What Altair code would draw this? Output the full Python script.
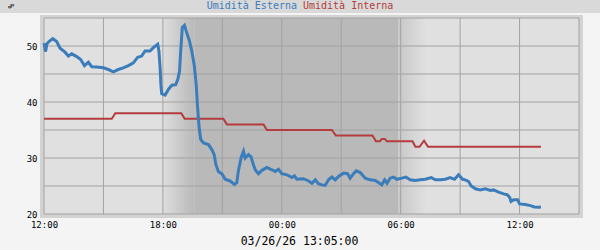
import altair as alt
import pandas as pd

# ---------------- data ----------------
START = pd.Timestamp("2026-03-25 12:00:00")

series_names = ["Umidità Esterna", "Umidità Interna"]
unit_label = "%"
footer_text = "03/26/26 13:05:00"

# hours after 03/25 12:00, humidity %
esterna_h = [0.0, 0.08, 0.15, 0.25, 0.44, 0.64, 0.81, 1.06, 1.23, 1.4, 1.65, 1.85, 2.04, 2.24,
             2.41, 2.66, 3.0, 3.25, 3.5, 3.75, 4.0, 4.26, 4.51, 4.73, 4.93, 5.1, 5.35, 5.52,
             5.74, 5.8, 5.86, 5.9, 5.94, 6.11, 6.28, 6.45, 6.65, 6.75, 6.84, 6.9, 6.98, 7.09,
             7.2, 7.34, 7.46, 7.59, 7.68, 7.74, 7.83, 7.91, 8.05, 8.3, 8.47, 8.59, 8.67, 8.8,
             9.0, 9.14, 9.39, 9.61, 9.73, 9.81, 9.95, 10.07, 10.15, 10.32, 10.45, 10.54, 10.66,
             10.82, 11.0, 11.25, 11.5, 11.67, 11.83, 12.0, 12.26, 12.51, 12.64, 12.76, 13.1,
             13.35, 13.52, 13.69, 13.85, 14.02, 14.19, 14.36, 14.53, 14.7, 14.86, 15.12, 15.32,
             15.45, 15.62, 15.76, 15.96, 16.21, 16.46, 16.72, 16.97, 17.05, 17.19, 17.31, 17.47,
             17.64, 17.81, 18.06, 18.26, 18.48, 18.73, 18.99, 19.24, 19.55, 19.75, 20.0, 20.25,
             20.5, 20.72, 20.92, 21.13, 21.26, 21.43, 21.55, 21.77, 22.02, 22.27, 22.53, 22.69,
             22.94, 23.2, 23.37, 23.5, 23.57, 23.7, 23.9, 24.0, 24.29, 24.55, 24.75, 24.96, 25.08]
esterna_v = [50.5, 49.0, 50.4, 50.8, 51.3, 50.8, 49.6, 48.9, 48.2, 48.6, 48.1, 47.6, 46.5, 47.1,
             46.3, 46.25, 46.1, 45.8, 45.4, 45.8, 46.1, 46.5, 47.0, 48.0, 48.2, 49.1, 49.1, 49.7,
             50.3, 49.1, 46.1, 43.1, 41.5, 41.25, 42.25, 43.0, 43.1, 44.0, 45.5, 49.1, 53.3, 53.7,
             52.4, 50.9, 49.1, 46.4, 43.1, 39.6, 35.4, 33.3, 32.7, 32.4, 31.5, 30.6, 28.9, 27.6,
             27.1, 26.2, 25.9, 25.3, 25.6, 27.7, 30.1, 31.2, 30.0, 30.6, 30.2, 29.1, 27.9,
             27.2, 27.8, 28.3, 27.9, 27.6, 28.0, 27.2, 27.0, 26.5, 26.8, 26.2, 26.3,
             25.9, 25.5, 26.1, 25.4, 25.2, 25.1, 26.1, 26.6, 26.1, 26.7, 27.3, 27.2,
             26.4, 27.2, 27.7, 27.4, 26.4, 26.1, 26.0, 25.4, 25.2, 26.1, 25.5, 26.4,
             26.6, 26.2, 26.4, 26.6, 26.1, 26.0, 26.1, 26.2, 26.5, 26.1, 26.1, 26.2,
             26.5, 26.2, 27.0, 26.2, 26.1, 25.8, 25.05, 24.5, 24.3, 24.5, 24.2, 24.3,
             23.9, 23.6, 23.45, 23.0, 22.25, 22.55, 22.55, 21.8, 21.7, 21.5, 21.25, 21.2, 21.25]

interna_h = [0.0, 3.42, 3.6, 6.93, 7.1, 9.05, 9.23, 11.08, 11.25, 14.53, 14.73, 16.58, 16.75,
             16.95, 17.05, 17.2, 17.3, 18.6, 18.74, 18.95, 19.18, 19.38, 25.08]
interna_v = [37, 37, 38, 38, 37, 37, 36, 36, 35, 35, 34, 34, 33,
             33, 33.4, 33.4, 33, 33, 32, 32, 33.1, 32, 32]

# night shading (hours after start): twilight in, dark, twilight out
dusk_h = [6.0, 7.6]
dark_h = [7.6, 17.88]
dawn_h = [17.88, 19.3]

x_domain_h = [0, 27]
grid_h = [0, 3, 6, 9, 12, 15, 18, 21, 24, 27]
label_h = [0, 6, 12, 18, 24]
y_domain = [20, 55]
y_grid = [20, 25, 30, 35, 40, 45, 50, 55]
y_labels = [20, 30, 40, 50]

# ---------------- helpers ----------------
def ts(h):
    return (START + pd.Timedelta(hours=h)).strftime("%Y-%m-%dT%H:%M:%SZ")

def dt(h):
    t = START + pd.Timedelta(hours=h)
    return alt.DateTime(year=t.year, month=t.month, date=t.day, hours=t.hour,
                        minutes=t.minute, utc=True)

W, H = 535, 196
FONT = "DejaVu Sans Mono"
BLUE = "#3b7dbb"
RED = "#b43c3c"
GRID = "#a2a2a2"

xscale = alt.Scale(type="utc", domain=[dt(x_domain_h[0]), dt(x_domain_h[1])])
yscale = alt.Scale(domain=y_domain, nice=False, zero=False)

xaxis = alt.Axis(values=[dt(h) for h in label_h], format="%H:%M", title=None,
                 ticks=False, domain=False, grid=False, labelFlush=False,
                 labelOverlap=False, labelFont=FONT, labelFontSize=9,
                 labelColor="#000000", labelPadding=6)
yaxis = alt.Axis(values=y_labels, title=None, ticks=False, domain=False, grid=False,
                 labelFlush=False, labelFont=FONT, labelFontSize=9,
                 labelColor="#000000", labelPadding=7)

one = pd.DataFrame({"k": [0]})

# decoration: top band, frame band, plot background
top_band = alt.Chart(one).mark_rect(color="#d9d9d9").encode(
    x=alt.value(-44), x2=alt.value(556), y=alt.value(-18), y2=alt.value(-5))
frame_band = alt.Chart(one).mark_rect(color="#d3d3d3").encode(
    x=alt.value(-4), x2=alt.value(W + 4), y=alt.value(-3), y2=alt.value(H + 4))
plot_bg = alt.Chart(one).mark_rect(color="#e0e0e0").encode(
    x=alt.value(0), x2=alt.value(W), y=alt.value(0), y2=alt.value(H))

def band(hs, c0, c1):
    df = pd.DataFrame({"a": [ts(hs[0])], "b": [ts(hs[1])]})
    grad = alt.Gradient(gradient="linear",
                        stops=[alt.GradientStop(color=c0, offset=0),
                               alt.GradientStop(color=c1, offset=1)],
                        x1=0, x2=1, y1=0, y2=0)
    return alt.Chart(df).mark_rect(fill=grad).encode(
        x=alt.X("a:T", scale=xscale, axis=xaxis), x2="b:T",
        y=alt.value(0), y2=alt.value(H))

dusk = band(dusk_h, "#dddddd", "#b9b9b9")
dark = band(dark_h, "#b9b9b9", "#b9b9b9")
dawn = band(dawn_h, "#c8c8c8", "#e0e0e0")

vgrid = alt.Chart(pd.DataFrame({"t": [ts(h) for h in grid_h]})).mark_rule(
    color=GRID, strokeWidth=1).encode(x=alt.X("t:T", scale=xscale, axis=xaxis))
hgrid = alt.Chart(pd.DataFrame({"v": y_grid})).mark_rule(
    color=GRID, strokeWidth=1).encode(y=alt.Y("v:Q", scale=yscale, axis=yaxis))

df_int = pd.DataFrame({"t": [ts(h) for h in interna_h], "v": interna_v})
df_est = pd.DataFrame({"t": [ts(h) for h in esterna_h], "v": esterna_v})

line_int = alt.Chart(df_int).mark_line(color=RED, strokeWidth=2).encode(
    x=alt.X("t:T", scale=xscale, axis=xaxis), y=alt.Y("v:Q", scale=yscale, axis=yaxis))
line_est = alt.Chart(df_est).mark_line(color=BLUE, strokeWidth=3).encode(
    x=alt.X("t:T", scale=xscale, axis=xaxis), y=alt.Y("v:Q", scale=yscale, axis=yaxis))

# texts
leg1 = alt.Chart(pd.DataFrame({"s": [series_names[0]]})).mark_text(
    font=FONT, fontSize=10, color=BLUE, align="right", baseline="middle").encode(
    text="s:N", x=alt.value(253), y=alt.value(-12))
leg2 = alt.Chart(pd.DataFrame({"s": [series_names[1]]})).mark_text(
    font=FONT, fontSize=10, color=RED, align="left", baseline="middle").encode(
    text="s:N", x=alt.value(259), y=alt.value(-12))
unit = alt.Chart(pd.DataFrame({"s": [unit_label]})).mark_text(
    font=FONT, fontSize=8, color="#000000", angle=270, align="center",
    baseline="middle").encode(text="s:N", x=alt.value(-32), y=alt.value(-12))
footer = alt.Chart(pd.DataFrame({"s": [footer_text]})).mark_text(
    font=FONT, fontSize=11.5, color="#000000", align="center",
    baseline="middle").encode(text="s:N", x=alt.value(255.5), y=alt.value(224))

chart = alt.layer(
    top_band, frame_band, plot_bg, dusk, dark, dawn, vgrid, hgrid,
    line_int, line_est, leg1, leg2, unit, footer
).properties(
    width=W, height=H,
    autosize=alt.AutoSizeParams(type="none"),
    padding={"left": 44, "top": 18, "right": 21, "bottom": 36},
    background="#f4f4f4",
).configure_view(stroke=GRID, strokeWidth=1)

chart.save("out.html", embed_options={"renderer": "svg", "actions": False})
